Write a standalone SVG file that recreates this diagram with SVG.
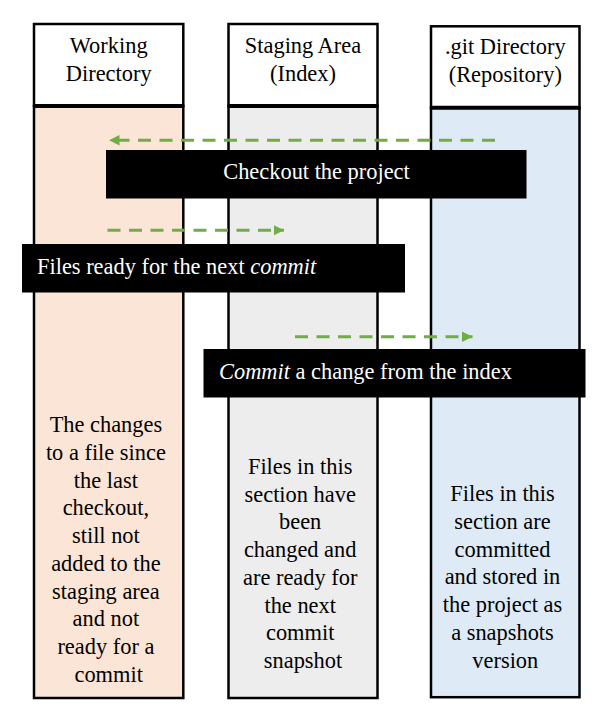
<svg xmlns="http://www.w3.org/2000/svg" width="604" height="716" viewBox="0 0 604 716">
  <style>
    .hdr { fill: #FFFFFF; stroke: #000000; stroke-width: 2.5; }
    .body { stroke: #000000; stroke-width: 2.5; }
    .div { stroke: #000000; stroke-width: 4; }
    .band { fill: #000000; }
    .arrow { stroke: #70AD47; stroke-width: 3; stroke-dasharray: 13 8.5; fill: none; }
  </style>
  <defs>
    <marker id="ah" markerUnits="userSpaceOnUse" markerWidth="11" markerHeight="11" refX="10.5" refY="5.3" orient="auto">
      <path d="M0,0 L10.5,5.3 L0,10.6 Z" fill="#70AD47"/>
    </marker>
  </defs>
  <rect width="604" height="716" fill="#FFFFFF"/>

  <g font-family="Liberation Serif" font-size="22.4" fill="#000000">
  <g id="working-directory">
    <rect class="body" x="34" y="106" width="149.3" height="592" fill="#FBE5D6"/>
    <rect class="hdr" x="34" y="24" width="149.3" height="82"/>
    <line class="div" x1="34" y1="106" x2="183.3" y2="106"/>
    <text text-anchor="middle" x="108.7" y="52.7">Working</text>
    <text text-anchor="middle" x="108.7" y="80.7">Directory</text>
    <text text-anchor="middle" x="108.7">
      <tspan x="108.7" y="432.3">The changes</tspan>
      <tspan x="108.7" y="460">to a file since</tspan>
      <tspan x="108.7" y="487.7">the last</tspan>
      <tspan x="108.7" y="515.4">checkout,</tspan>
      <tspan x="108.7" y="543.1">still not</tspan>
      <tspan x="108.7" y="570.8">added to the</tspan>
      <tspan x="108.7" y="598.5">staging area</tspan>
      <tspan x="108.7" y="626.2">and not</tspan>
      <tspan x="108.7" y="653.9">ready for a</tspan>
      <tspan x="108.7" y="681.6">commit</tspan>
    </text>
  </g>

  <g id="staging-area">
    <rect class="body" x="228.5" y="106" width="149" height="592" fill="#EDEDED"/>
    <rect class="hdr" x="228.5" y="24" width="149" height="82"/>
    <line class="div" x1="228.5" y1="106" x2="377.5" y2="106"/>
    <text text-anchor="middle" x="303" y="53">Staging Area</text>
    <text text-anchor="middle" x="303" y="81">(Index)</text>
    <text text-anchor="middle" x="303">
      <tspan x="303" y="474">Files in this</tspan>
      <tspan x="303" y="501.7">section have</tspan>
      <tspan x="303" y="529.4">been</tspan>
      <tspan x="303" y="557.1">changed and</tspan>
      <tspan x="303" y="584.8">are ready for</tspan>
      <tspan x="303" y="612.5">the next</tspan>
      <tspan x="303" y="640.2">commit</tspan>
      <tspan x="303" y="667.9">snapshot</tspan>
    </text>
  </g>

  <g id="git-directory">
    <rect class="body" x="431" y="107.7" width="148.5" height="589.5" fill="#DEEBF7"/>
    <rect class="hdr" x="431" y="26.3" width="148.5" height="81.4"/>
    <line class="div" x1="431" y1="107.7" x2="579.5" y2="107.7"/>
    <text text-anchor="middle" x="505.3" y="54">.git Directory</text>
    <text text-anchor="middle" x="505.3" y="82">(Repository)</text>
    <text text-anchor="middle" x="505.3">
      <tspan x="505.3" y="501.3">Files in this</tspan>
      <tspan x="505.3" y="529">section are</tspan>
      <tspan x="505.3" y="556.7">committed</tspan>
      <tspan x="505.3" y="584.4">and stored in</tspan>
      <tspan x="505.3" y="612.1">the project as</tspan>
      <tspan x="505.3" y="639.8">a snapshots</tspan>
      <tspan x="505.3" y="667.5">version</tspan>
    </text>
  </g>

  <g id="connectors">
    <line class="arrow" x1="495" y1="140.3" x2="109" y2="140.3" marker-end="url(#ah)"/>
    <line class="arrow" x1="107.5" y1="230.3" x2="284" y2="230.3" marker-end="url(#ah)"/>
    <line class="arrow" x1="295" y1="336.7" x2="472.5" y2="336.7" marker-end="url(#ah)"/>
  </g>

  <g id="label-checkout">
    <rect class="band" x="106" y="150" width="420.5" height="48.5"/>
    <text text-anchor="middle" fill="#FFFFFF" x="316.5" y="179">Checkout the project</text>
  </g>

  <g id="label-files-ready">
    <rect class="band" x="22" y="244" width="383" height="48.5"/>
    <text fill="#FFFFFF" x="37" y="273.5">Files ready for the next <tspan font-style="italic">commit</tspan></text>
  </g>

  <g id="label-commit">
    <rect class="band" x="203.5" y="349" width="382" height="48.5"/>
    <text fill="#FFFFFF" x="219" y="378.5"><tspan font-style="italic">Commit</tspan> a change from the index</text>
  </g>
  </g>
</svg>
